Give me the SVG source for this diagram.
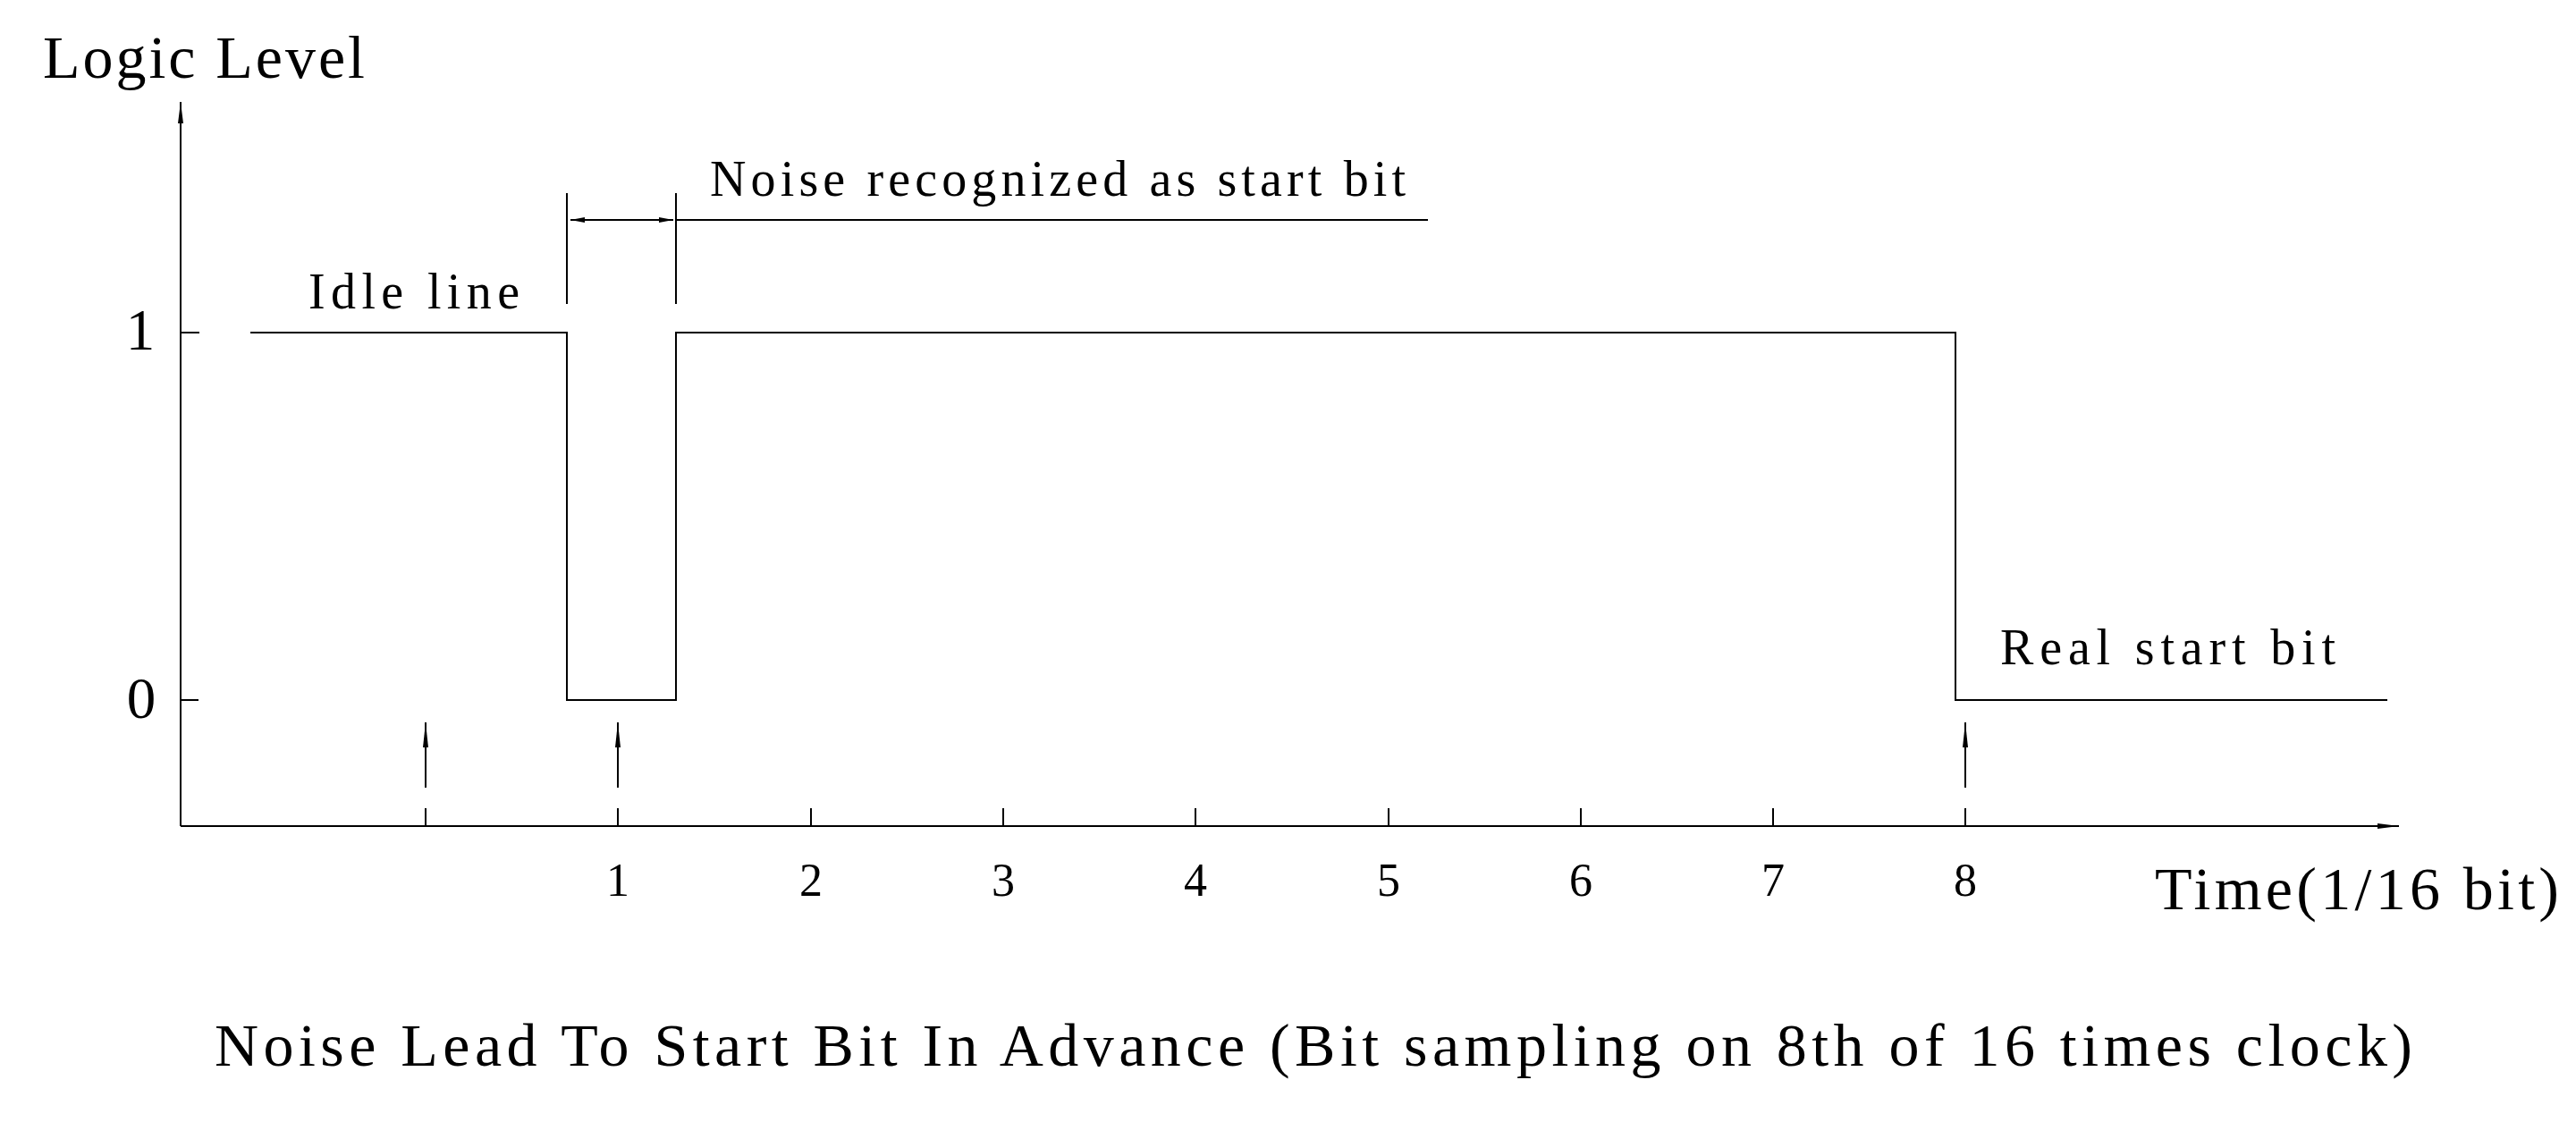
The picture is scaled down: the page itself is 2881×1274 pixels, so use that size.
<svg xmlns="http://www.w3.org/2000/svg" width="2881" height="1274" viewBox="0 0 2881 1274">
<style>
  .ln{stroke:#000;stroke-width:2;fill:none}
  .t{font-family:"Liberation Serif","DejaVu Serif",serif;fill:#000}
  .lab{font-size:56px}
  .big{font-size:68px}
  .num{font-size:52px;text-anchor:middle}
  .lvl{font-size:65px;text-anchor:middle}
</style>
<defs>
  <marker id="arrS" markerUnits="userSpaceOnUse" markerWidth="30" markerHeight="10" refX="28" refY="4" orient="auto">
    <path d="M0,1 L28,4 L0,7 z" fill="#000"/>
  </marker>
  <marker id="arrAx" markerUnits="userSpaceOnUse" markerWidth="26" markerHeight="10" refX="24" refY="4" orient="auto">
    <path d="M0,1 L24,4 L0,7 z" fill="#000"/>
  </marker>
  <marker id="arrD" markerUnits="userSpaceOnUse" markerWidth="18" markerHeight="10" refX="16" refY="4" orient="auto">
    <path d="M0,1 L16,4 L0,7 z" fill="#000"/>
  </marker>
</defs>
<rect width="2881" height="1274" fill="#fff"/>

<g id="axes">
  <line class="ln" x1="202" y1="924" x2="202" y2="114" marker-end="url(#arrAx)"/>
  <line class="ln" x1="202" y1="924" x2="2683" y2="924" marker-end="url(#arrAx)"/>
  <line class="ln" x1="202" y1="372" x2="223" y2="372"/>
  <line class="ln" x1="202" y1="783" x2="222" y2="783"/>
  <g id="ticks">
    <line class="ln" x1="476" y1="904" x2="476" y2="924"/>
    <line class="ln" x1="691" y1="904" x2="691" y2="924"/>
    <line class="ln" x1="907" y1="904" x2="907" y2="924"/>
    <line class="ln" x1="1122" y1="904" x2="1122" y2="924"/>
    <line class="ln" x1="1337" y1="904" x2="1337" y2="924"/>
    <line class="ln" x1="1553" y1="904" x2="1553" y2="924"/>
    <line class="ln" x1="1768" y1="904" x2="1768" y2="924"/>
    <line class="ln" x1="1983" y1="904" x2="1983" y2="924"/>
    <line class="ln" x1="2198" y1="904" x2="2198" y2="924"/>
  </g>
</g>

<g id="waveform">
  <polyline class="ln" points="280,372 634,372 634,783 756,783 756,372 2187,372 2187,783 2670,783"/>
</g>

<g id="connectors">
  <line class="ln" x1="634" y1="216" x2="634" y2="340"/>
  <line class="ln" x1="756" y1="216" x2="756" y2="340"/>
  <line class="ln" x1="756" y1="246" x2="1597" y2="246"/>
  <line class="ln" x1="695" y1="246" x2="638" y2="246" marker-end="url(#arrD)"/>
  <line class="ln" x1="695" y1="246" x2="753" y2="246" marker-end="url(#arrD)"/>
  <line class="ln" x1="476" y1="881" x2="476" y2="808" marker-end="url(#arrS)"/>
  <line class="ln" x1="691" y1="881" x2="691" y2="808" marker-end="url(#arrS)"/>
  <line class="ln" x1="2198" y1="881" x2="2198" y2="808" marker-end="url(#arrS)"/>
</g>

<g id="labels">
  <text class="t big" x="48" y="87" textLength="360">Logic Level</text>
  <text class="t lab" x="345" y="345" textLength="236">Idle line</text>
  <text class="t lab" x="794" y="219" textLength="778">Noise recognized as start bit</text>
  <text class="t lab" x="2237" y="743" textLength="375">Real start bit</text>
  <text class="t lvl" x="157" y="391">1</text>
  <text class="t lvl" x="158" y="803">0</text>
  <text class="t num" x="691" y="1002">1</text>
  <text class="t num" x="907" y="1002">2</text>
  <text class="t num" x="1122" y="1002">3</text>
  <text class="t num" x="1337" y="1002">4</text>
  <text class="t num" x="1553" y="1002">5</text>
  <text class="t num" x="1768" y="1002">6</text>
  <text class="t num" x="1983" y="1002">7</text>
  <text class="t num" x="2198" y="1002">8</text>
  <text class="t big" x="2410" y="1017" textLength="452">Time(1/16 bit)</text>
  <text class="t big" x="240" y="1192" textLength="2458">Noise Lead To Start Bit In Advance (Bit sampling on 8th of 16 times clock)</text>
</g>
</svg>
